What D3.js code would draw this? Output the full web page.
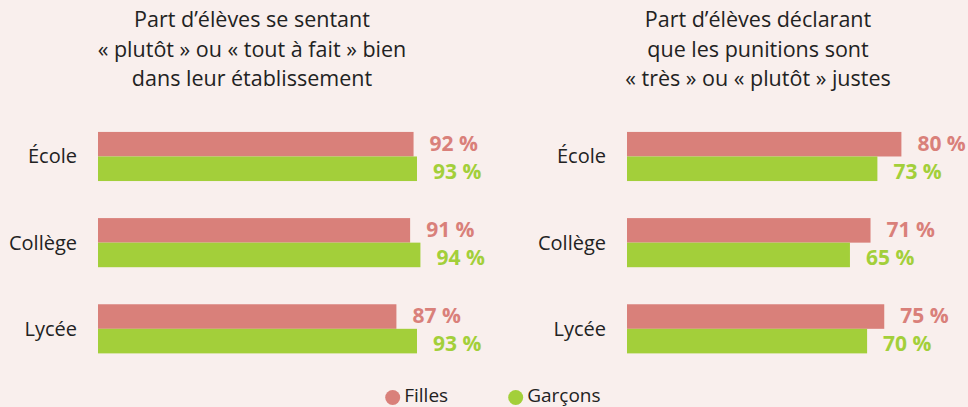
<!DOCTYPE html>
<html>
<head>
<meta charset="utf-8">
<script src="https://cdn.jsdelivr.net/npm/d3@7"></script>
<style>
  html, body { margin: 0; padding: 0; background: #f9efed; }
  svg { display: block; font-family: "Open Sans", "Noto Sans", sans-serif; }
</style>
</head>
<body>
<div id="canvas"></div>
<script>
const canvas = d3.select("#canvas");

// Données
const categories = ["École", "Collège", "Lycée"];
const series = ["Filles", "Garçons"];
const bienFilles = [92, 91, 87];
const bienGarcons = [93, 94, 93];
const justesFilles = [80, 71, 75];
const justesGarcons = [73, 65, 70];
const titreGauche = ["Part d’élèves se sentant", "« plutôt » ou « tout à fait » bien", "dans leur établissement"];
const titreDroite = ["Part d’élèves déclarant", "que les punitions sont", "« très » ou « plutôt » justes"];

const width = 968;
const height = 407;
const colors = { "Filles": "#d9807a", "Garçons": "#a3cf3a" };

const svg = canvas.append("svg")
  .attr("width", width)
  .attr("height", height);

const y = d3.scaleBand()
  .domain(categories)
  .range([113.4, 371.9])
  .paddingInner(0.43)
  .paddingOuter(0.215);

const ySub = d3.scaleBand()
  .domain(series)
  .range([0, y.bandwidth()]);

const panels = [
  { left: 98, labelX: 77, titleX: 252, title: titreGauche, values: [bienFilles, bienGarcons] },
  { left: 627, labelX: 606, titleX: 758, title: titreDroite, values: [justesFilles, justesGarcons] }
];

panels.forEach(p => {
  const x = d3.scaleLinear().domain([0, 100]).range([0, 343]);
  const g = svg.append("g").attr("transform", `translate(${p.left},0)`);

  // titre
  svg.append("text")
    .attr("x", p.titleX)
    .attr("text-anchor", "middle")
    .style("font-size", "21.5px")
    .style("fill", "#222")
    .selectAll("tspan").data(p.title)
    .enter().append("tspan")
    .attr("x", p.titleX)
    .attr("y", (d, i) => 27 + i * 29.7)
    .text(d => d);

  // libellés de catégories
  svg.selectAll(null).data(categories)
    .enter().append("text")
    .attr("x", p.labelX)
    .attr("y", d => y(d) + y.bandwidth() / 2)
    .attr("dy", "0.35em")
    .attr("text-anchor", "end")
    .style("font-size", "20px")
    .style("fill", "#222")
    .text(d => d);

  const rows = [];
  categories.forEach((c, i) => {
    series.forEach((s, j) => rows.push({ cat: c, serie: s, value: p.values[j][i] }));
  });

  g.selectAll("rect").data(rows)
    .enter().append("rect")
    .attr("x", 0)
    .attr("y", d => y(d.cat) + ySub(d.serie))
    .attr("width", d => x(d.value))
    .attr("height", ySub.bandwidth())
    .style("fill", d => colors[d.serie]);

  g.selectAll(".val").data(rows)
    .enter().append("text")
    .attr("class", "val")
    .attr("x", d => x(d.value) + 16)
    .attr("y", d => y(d.cat) + ySub(d.serie) + ySub.bandwidth() / 2 + (d.serie === "Filles" ? -1 : 3))
    .attr("dy", "0.35em")
    .style("font-size", "21px")
    .style("font-weight", "bold")
    .style("fill", d => colors[d.serie])
    .text(d => d.value + " %");
});

// légende
const legend = svg.append("g");
const legendX = [392.7, 515.7];
series.forEach((s, i) => {
  legend.append("circle")
    .attr("cx", legendX[i])
    .attr("cy", 397.5)
    .attr("r", 7.5)
    .style("fill", colors[s]);
  legend.append("text")
    .attr("x", legendX[i] + 11.5)
    .attr("y", 395.5)
    .attr("dy", "0.35em")
    .style("font-size", "19px")
    .style("fill", "#222")
    .text(s);
});
</script>
</body>
</html>
